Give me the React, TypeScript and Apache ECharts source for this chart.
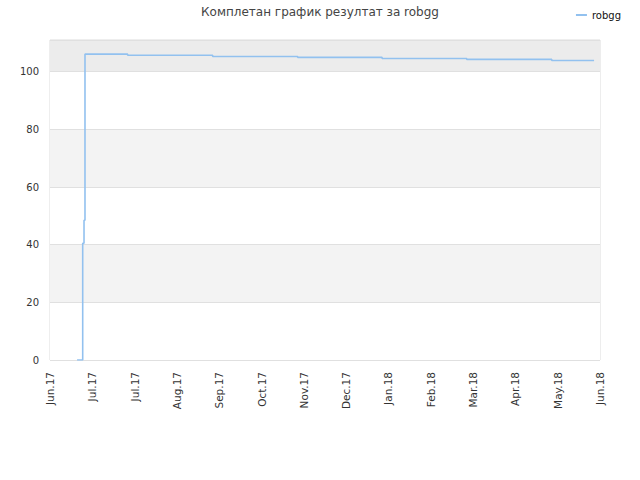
import React, { useEffect, useRef } from "react";
import * as echarts from "echarts";

const monthLabels = ["Jun.17", "Jul.17", "Jul.17", "Aug.17", "Sep.17", "Oct.17", "Nov.17", "Dec.17", "Jan.18", "Feb.18", "Mar.18", "Apr.18", "May.18", "Jun.18"];
const pointPositions = [0.64, 0.773, 0.773, 0.773, 0.773, 0.804, 0.827, 0.827, 0.827, 1.836, 3.845, 5.855, 7.85, 9.85, 11.86, 12.86];
const scores = [0, 24, 28.8, 36.8, 40.5, 48.5, 52.8, 65, 106.1, 105.7, 105.3, 104.97, 104.6, 104.27, 103.9, 103.9];
const seriesName = "robgg";
const titleText = "Комплетан график резултат за robgg";

export default function App() {
  const ref = useRef<HTMLDivElement>(null);
  useEffect(() => {
    if (!ref.current) return;
    const chart = echarts.init(ref.current, null, { renderer: "svg" });
    const font = "DejaVu Sans";
    chart.setOption({
      animation: false,
      backgroundColor: "#fff",
      title: {
        text: titleText,
        left: "center",
        top: 1,
        textStyle: { fontFamily: font, fontSize: 12, fontWeight: "normal", color: "#444" },
      },
      legend: {
        right: 14,
        top: 5,
        icon: "rect",
        itemWidth: 11,
        itemHeight: 2,
        itemGap: 8,
        textStyle: { fontFamily: font, fontSize: 10, color: "#111" },
        data: [seriesName],
      },
      grid: { left: 50, right: 40, top: 40, bottom: 120, show: true, borderColor: "#dcdcdc", borderWidth: 1, backgroundColor: "transparent" },
      xAxis: {
        type: "value",
        min: 0,
        max: 13,
        interval: 1,
        axisLine: { show: false },
        axisTick: { show: false },
        splitLine: { show: false },
        axisLabel: {
          rotate: 90,
          margin: 12,
          fontFamily: font,
          fontSize: 10.5,
          color: "#333",
          formatter: (v: number) => monthLabels[Math.round(v)] ?? "",
        },
      },
      yAxis: {
        type: "value",
        min: 0,
        max: 111,
        interval: 20,
        axisLine: { show: false },
        axisTick: { show: false },
        splitLine: { lineStyle: { color: "#e0e0e0", width: 1 } },
        splitArea: {
          show: true,
          areaStyle: { color: ["#ffffff", "#f3f3f3", "#ffffff", "#f3f3f3", "#ffffff", "#ececec"] },
        },
        axisLabel: { showMaxLabel: false, margin: 11, fontFamily: font, fontSize: 10, color: "#333" },
      },
      series: [
        {
          name: seriesName,
          type: "line",
          step: "end",
          showSymbol: false,
          symbol: "none",
          lineStyle: { color: "#92c1ef", width: 1.6 },
          itemStyle: { color: "#92c1ef" },
          data: pointPositions.map((x, i) => [x, scores[i]]),
        },
      ],
    });
    return () => chart.dispose();
  }, []);
  return <div ref={ref} style={{ position: "fixed", left: 0, top: 0, width: 640, height: 480 }} />;
}
